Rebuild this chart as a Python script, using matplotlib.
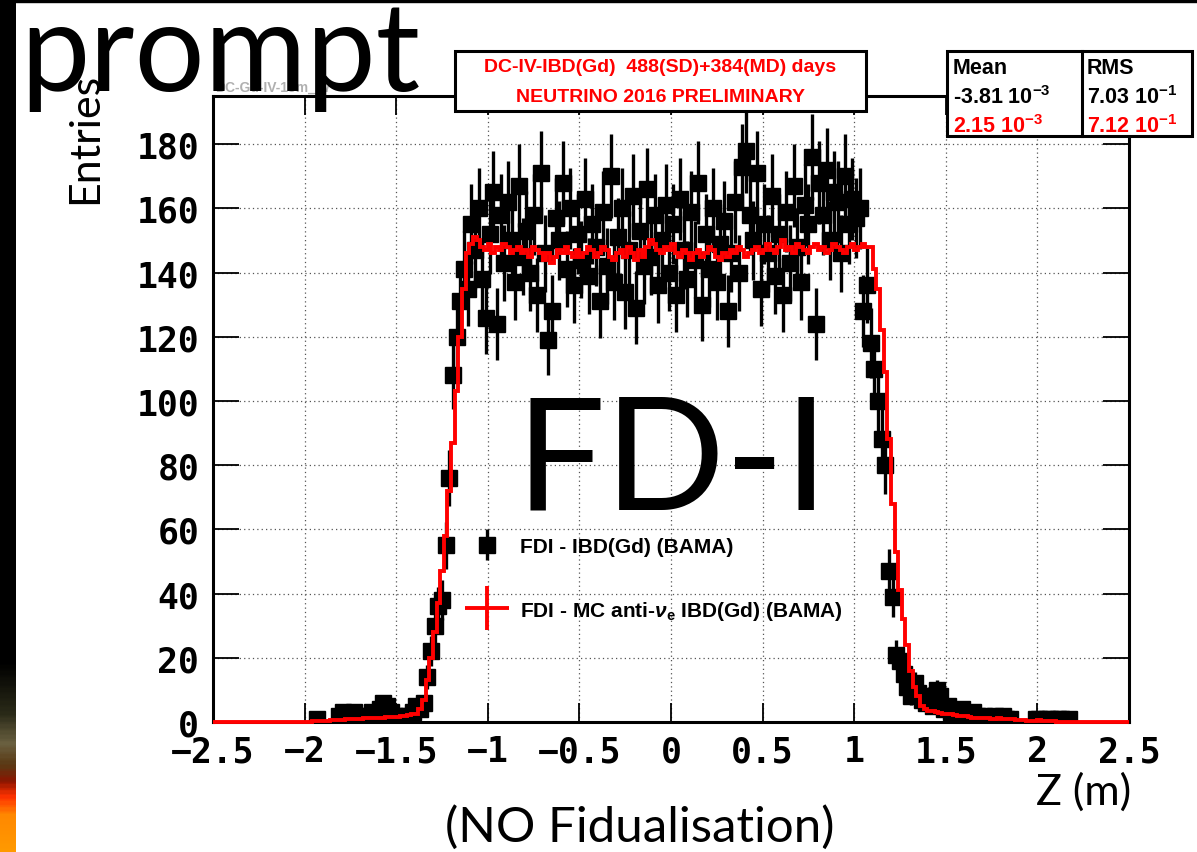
import numpy as np
import matplotlib
matplotlib.use('Agg')
import matplotlib.pyplot as plt
from matplotlib.patches import Rectangle
from matplotlib.lines import Line2D
from matplotlib.colors import LinearSegmentedColormap
from matplotlib.container import ErrorbarContainer
from matplotlib.legend_handler import HandlerErrorbar

plt.rcParams['mathtext.fontset'] = 'custom'
plt.rcParams['mathtext.rm'] = 'Liberation Sans:bold'
plt.rcParams['mathtext.bf'] = 'Liberation Sans:bold'
plt.rcParams['mathtext.it'] = 'Liberation Sans:italic:bold'

# binning of the Z histograms (0.02 m bins)
z_min, z_max, n_bins = -2.5, 2.5, 250
first_edge = -2.0   # lower edge of the first listed bin

# data: IBD(Gd) candidates per bin, from z = -2.0 to 2.2
data_counts = [
    # -1.99 .. -1.37
    0, 0, 0, 1, 0, 0, 0, 0, 0, 2, 3, 1, 2, 3, 1, 2, 2, 1, 3, 2,
    4, 6, 5, 3, 2, 1, 2, 1, 2, 3, 5, 4,
    # -1.35 .. -1.11 (rising edge)
    6, 14, 22, 30, 36, 38, 55, 76, 108, 120, 131, 141, 135,
    # -1.09 .. 1.05 (plateau)
    155, 147, 160, 138, 126, 152, 165, 124, 158, 143,
    162, 150, 137, 167, 145, 153, 140, 158, 133, 171,
    146, 119, 128, 157, 150, 168, 141, 160, 136, 152,
    144, 163, 139, 155, 148, 131, 159, 142, 170, 137,
    151, 160, 134, 147, 164, 129, 153, 142, 166, 145,
    158, 136, 150, 161, 140, 155, 133, 163, 147, 138,
    159, 144, 168, 130, 152, 141, 160, 137, 149, 156,
    128, 146, 162, 140, 173, 178, 158, 150, 171, 135,
    155, 146, 164, 139, 152, 133, 159, 143, 167, 148,
    137, 161, 155, 176, 124, 168, 158, 172, 150, 165,
    162, 146, 170, 155, 163, 157, 160, 128,
    # 1.07 .. 2.19 (falling edge and tail)
    136, 118, 110, 100, 88, 80, 47, 39, 21, 19,
    15, 11, 8, 12, 9, 7, 6, 8, 5, 10,
    8, 4, 5, 3, 2, 3, 4, 2, 1, 3,
    2, 1, 2, 1, 0, 2, 1, 2, 1, 1,
    0, 0, 0, 0, 0, 0, 1, 1, 0, 1,
    1, 0, 1, 1, 0, 1, 0,
]

# MC anti-nu_e IBD(Gd), normalised, same bins
mc_counts = [
    # -1.99 .. -1.41
    0.1, 0.1, 0.2, 0.2, 0.3, 0.3, 0.4, 0.5, 0.5, 0.6,
    0.7, 0.8, 0.8, 0.9, 1.0, 1.0, 1.1, 1.2, 1.2, 1.3,
    1.3, 1.4, 1.5, 1.5, 1.6, 1.7, 1.8, 2.0, 2.2, 2.5,
    # -1.39 .. -1.11
    2.5, 4, 7, 13, 20, 28, 37, 47, 58, 72, 87, 103, 120, 135, 146,
    # -1.09 .. 1.05
    149, 151, 150, 148, 147, 149, 146, 148, 147, 149,
    148, 146, 147, 148, 146, 147, 145, 148, 147, 146,
    144, 146, 143, 145, 147, 146, 148, 146, 145, 147,
    145, 146, 148, 147, 145, 146, 148, 147, 145, 144,
    146, 147, 145, 148, 146, 144, 147, 145, 148, 150,
    149, 147, 146, 148, 147, 149, 146, 145, 147, 146,
    144, 146, 147, 145, 146, 148, 147, 145, 144, 146,
    145, 147, 146, 148, 147, 145, 146, 147, 148, 146,
    147, 149, 147, 146, 148, 150, 147, 148, 146, 149,
    148, 147, 146, 148, 149, 147, 148, 146, 147, 149,
    148, 147, 146, 148, 149, 147, 148, 149,
    # 1.07 .. 2.19
    148, 148, 141, 135, 122, 109, 88, 68, 53, 41,
    32, 24, 16, 11, 8, 5, 4, 3.5, 3.4, 3.2,
    2.8, 2.6, 2.5, 2.4, 2.2, 2.0, 1.9, 1.8, 1.5, 1.4,
    1.4, 1.3, 1.2, 1.1, 1.0, 1.0, 1.1, 1.0, 0.9, 1.0,
    0.8, 0.6, 0.5, 0.5, 0.4, 0.4, 0.3, 0.6, 0.2, 0.2,
    0.2, 0.2, 0.1, 0.1, 0.1, 0.1, 0.1,
]

x_ticks = [-2.5, -2, -1.5, -1, -0.5, 0, 0.5, 1, 1.5, 2, 2.5]
x_tick_labels = ['\u22122.5', '\u22122', '\u22121.5', '\u22121', '\u22120.5',
                 '0', '0.5', '1', '1.5', '2', '2.5']
y_ticks = [0, 20, 40, 60, 80, 100, 120, 140, 160, 180]

stats_mean = [r'-3.81 10$^{-3}$', r'2.15 10$^{-3}$']
stats_rms = [r'7.03 10$^{-1}$', r'7.12 10$^{-1}$']
stats_colors = ['black', 'red']

edges = np.linspace(z_min, z_max, n_bins + 1)
centers = 0.5 * (edges[1:] + edges[:-1])
i0 = int(round((first_edge - z_min) / (edges[1] - edges[0])))

data_full = np.zeros(n_bins)
data_full[i0:i0 + len(data_counts)] = data_counts
mc_full = np.zeros(n_bins)
mc_full[i0:i0 + len(mc_counts)] = mc_counts

W, H = 1197, 853
fig = plt.figure(figsize=(W / 100, H / 100), dpi=100)
fig.patch.set_facecolor('white')

ax = fig.add_axes([213 / W, 1 - 723 / H, (1129 - 213) / W, (723 - 97) / H])

nz = data_full > 0
data_eb = ax.errorbar(centers[nz], data_full[nz], yerr=np.sqrt(data_full[nz]),
                      fmt='s', ms=11.5, color='black', mec='black',
                      elinewidth=2.4, capsize=0, zorder=3)
ax.stairs(mc_full, edges, color='red', lw=2.8, zorder=4, clip_on=False)

ax.set_xlim(z_min, z_max)
ax.set_ylim(0, 195)
ax.set_xticks(x_ticks)
ax.set_xticklabels(x_tick_labels)
ax.set_yticks(y_ticks)
ax.grid(True, ls=(0, (1, 2.5)), color='#555555', lw=0.9)
ax.set_axisbelow(True)
for sp in ax.spines.values():
    sp.set_linewidth(2.2)
ax.tick_params(axis='y', direction='in', length=19, width=1.3, left=True, right=True,
               pad=10, labelsize=25)
ax.tick_params(axis='x', direction='in', length=14, width=1.3, bottom=True, top=True,
               pad=9, labelsize=25)
for lab in ax.get_xticklabels() + ax.get_yticklabels():
    lab.set_fontfamily('DejaVu Sans Mono')
    lab.set_fontweight('bold')

# legend
mc_handle = Line2D([], [], color='red', marker='+', ms=31, mew=2.8, ls='none')
leg = ax.legend([data_eb, mc_handle],
                ['FDI - IBD(Gd) (BAMA)', r'FDI - MC anti-$\nu_{\rm e}$ IBD(Gd) (BAMA)'],
                handler_map={ErrorbarContainer: HandlerErrorbar(xerr_size=0.75)},
                loc='upper left', bbox_to_anchor=(466 / W, 1 - 538 / H),
                bbox_transform=fig.transFigure, frameon=False, numpoints=1,
                borderpad=0, borderaxespad=0, handlelength=2.0, handletextpad=0.6,
                labelspacing=2.05,
                prop={'family': 'Liberation Sans', 'weight': 'bold', 'size': 15})
leg.set_zorder(5)

# title pave
fig.add_artist(Rectangle((455 / W, 1 - 112 / H), (866 - 455) / W, 60 / H,
                         transform=fig.transFigure, facecolor='white',
                         edgecolor='black', lw=2.2, zorder=6))
fig.text(660 / W, 1 - 68 / H, 'DC-IV-IBD(Gd)  488(SD)+384(MD) days', color='red',
         ha='center', va='center', family='Liberation Sans', weight='bold',
         fontsize=14, zorder=7)
fig.text(660 / W, 1 - 97 / H, 'NEUTRINO 2016 PRELIMINARY', color='red',
         ha='center', va='center', family='Liberation Sans', weight='bold',
         fontsize=14, zorder=7)

# stats pave
fig.add_artist(Rectangle((947 / W, 1 - 137 / H), (1192 - 947) / W, 85 / H,
                         transform=fig.transFigure, facecolor='white',
                         edgecolor='black', lw=2.2, zorder=6))
fig.add_artist(Line2D([1082 / W, 1082 / W], [1 - 137 / H, 1 - 52 / H],
                      transform=fig.transFigure, color='black', lw=2.2, zorder=7))
stat_font = dict(family='Liberation Sans', weight='bold', fontsize=15.5,
                 va='center', ha='left', zorder=8)
fig.text(953 / W, 1 - 68 / H, 'Mean', color='black', **stat_font)
fig.text(1087 / W, 1 - 68 / H, 'RMS', color='black', **stat_font)
for row, (m, r, c) in enumerate(zip(stats_mean, stats_rms, stats_colors)):
    y = 1 - (98 + 29 * row) / H
    fig.text(953 / W, y, m, color=c, **stat_font)
    fig.text(1087 / W, y, r, color=c, **stat_font)

# slide decorations
fig.text(215 / W, 1 - 92 / H, 'DC-Gd-IV-15m_v7', color='#b0b0b0', fontsize=10,
         weight='bold', family='Liberation Sans', zorder=1)
fig.text(20 / W, 1 - 91 / H, 'prompt', family='Lato', fontsize=89,
         ha='left', va='baseline', color='black', zorder=9)
fig.text(85 / W, 1 - 138 / H, 'Entries', family='Lato', fontsize=31,
         rotation=90, ha='center', va='center', color='black', zorder=9)
fig.text(672 / W, 1 - 510 / H, 'FD-I', family='Lato', fontsize=114,
         ha='center', va='baseline', color='black', zorder=9)
fig.text(1131 / W, 1 - 805 / H, 'Z (m)', family='Lato', fontsize=31,
         ha='right', va='baseline', color='black', zorder=9)
fig.text(640 / W, 1 - 842 / H, '(NO Fidualisation)', family='Lato', fontsize=35.5,
         ha='center', va='baseline', color='black', zorder=9)

# dark strip on the left edge with the warm glow at the bottom
strip = fig.add_axes([0, 0, 16 / W, 1])
glow = LinearSegmentedColormap.from_list('glow', [
    (0.0, '#ff9900'), (0.04, '#ff8800'), (0.062, '#ff3300'), (0.08, '#8b1500'),
    (0.10, '#5a3a15'), (0.125, '#6a6040'), (0.16, '#2a2a18'), (0.22, '#000000'),
    (1.0, '#000000')])
strip.imshow(np.linspace(1, 0, 400)[:, None], aspect='auto', cmap=glow,
             extent=(0, 1, 0, 1), vmin=0, vmax=1)
strip.axis('off')
fig.add_artist(Rectangle((0, 1 - 3 / H), 1, 3 / H, transform=fig.transFigure,
                         color='black', zorder=10))

fig.savefig('out.png', dpi=100)
